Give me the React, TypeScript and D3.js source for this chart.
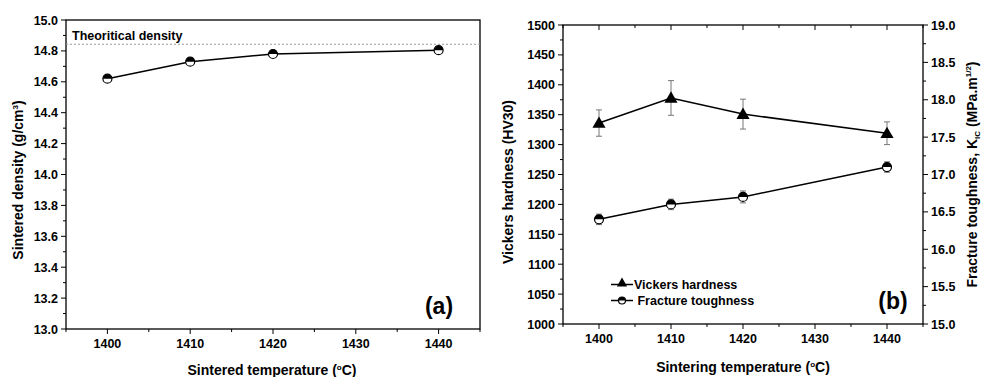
import * as d3 from "d3";
import { useEffect, useRef } from "react";

// panel (a)
const tempsA = [1400, 1410, 1420, 1440];
const density = [14.62, 14.73, 14.78, 14.805];
const theoreticalDensity = 14.843;

// panel (b)
const tempsB = [1400, 1410, 1420, 1440];
const hardness = [1336, 1378, 1351, 1319];
const hardnessErr = [22, 29, 25, 19];
const toughness = [16.4, 16.6, 16.7, 17.1];
const toughnessErr = [0.07, 0.07, 0.08, 0.07];

const xTicks = [1400, 1410, 1420, 1430, 1440];

const FONT = "'Liberation Sans', Arial, sans-serif";

const halfCircle = (g: any, x: number, y: number, r: number) => {
    g.append("circle")
        .attr("cx", x).attr("cy", y).attr("r", r)
        .attr("fill", "#fff").attr("stroke", "#000").attr("stroke-width", 1.2);
    g.append("path")
        .attr("d", `M${x - r},${y} A${r},${r} 0 0 1 ${x + r},${y} Z`)
        .attr("fill", "#000");
};

const App = () => {
    const svgRef = useRef<SVGSVGElement | null>(null);

    useEffect(() => {
        const svg = d3.select(svgRef.current);
        svg.selectAll("*").remove();
        svg.style("font-family", FONT);

        // ---------- panel (a)
        const a = { left: 66, right: 480, top: 20, bottom: 329 };
        const xA = d3.scaleLinear().domain([1395, 1445]).range([a.left, a.right]);
        const yA = d3.scaleLinear().domain([13, 15]).range([a.bottom, a.top]);
        const ga = svg.append("g");

        // frame
        ga.append("rect")
            .attr("x", a.left).attr("y", a.top)
            .attr("width", a.right - a.left).attr("height", a.bottom - a.top)
            .attr("fill", "none").attr("stroke", "#000").attr("stroke-width", 1.3);

        // y ticks
        d3.range(13, 15.001, 0.1).forEach((v, i) => {
            const major = i % 2 === 0;
            ga.append("line")
                .attr("x1", a.left).attr("x2", a.left - (major ? 5 : 3))
                .attr("y1", yA(v)).attr("y2", yA(v))
                .attr("stroke", "#000").attr("stroke-width", 1);
            if (major) {
                ga.append("text")
                    .attr("x", a.left - 8).attr("y", yA(v) + 4.5)
                    .attr("text-anchor", "end")
                    .attr("font-size", 12.5).attr("font-weight", "bold")
                    .text(v.toFixed(1));
            }
        });
        // x ticks
        d3.range(1395, 1445.001, 5).forEach((v) => {
            const major = v % 10 === 0;
            ga.append("line")
                .attr("x1", xA(v)).attr("x2", xA(v))
                .attr("y1", a.bottom).attr("y2", a.bottom + (major ? 5 : 3))
                .attr("stroke", "#000").attr("stroke-width", 1);
        });
        xTicks.forEach((v) => {
            ga.append("text")
                .attr("x", xA(v)).attr("y", a.bottom + 19)
                .attr("text-anchor", "middle")
                .attr("font-size", 12.5).attr("font-weight", "bold")
                .text(v);
        });

        // theoretical density
        ga.append("line")
            .attr("x1", a.left).attr("x2", a.right)
            .attr("y1", yA(theoreticalDensity)).attr("y2", yA(theoreticalDensity))
            .attr("stroke", "#999").attr("stroke-dasharray", "2,2").attr("stroke-width", 1);
        ga.append("text")
            .attr("x", 72).attr("y", 40)
            .attr("font-size", 12.5).attr("font-weight", "bold")
            .text("Theoritical density");

        const lineA = d3.line<number>()
            .x((_, i) => xA(tempsA[i]))
            .y((d) => yA(d));
        ga.append("path")
            .attr("d", lineA(density))
            .attr("fill", "none").attr("stroke", "#000").attr("stroke-width", 1.5);
        density.forEach((d, i) => halfCircle(ga, xA(tempsA[i]), yA(d), 4.5));

        ga.append("text")
            .attr("x", 439).attr("y", 314)
            .attr("text-anchor", "middle")
            .attr("font-size", 23).attr("font-weight", "bold")
            .text("(a)");

        // axis titles
        const tA = ga.append("text")
            .attr("x", 272).attr("y", 375)
            .attr("text-anchor", "middle")
            .attr("font-size", 14).attr("font-weight", "bold");
        tA.append("tspan").text("Sintered temperature (");
        tA.append("tspan").attr("dy", -5).attr("font-size", 8).text("o");
        tA.append("tspan").attr("dy", 5).text("C)");

        const yTA = ga.append("text")
            .attr("transform", `translate(23,180) rotate(-90)`)
            .attr("text-anchor", "middle")
            .attr("font-size", 14).attr("font-weight", "bold");
        yTA.append("tspan").text("Sintered density (g/cm");
        yTA.append("tspan").attr("dy", -5).attr("font-size", 8).text("3");
        yTA.append("tspan").attr("dy", 5).text(")");

        // ---------- panel (b)
        const b = { left: 563, right: 923, top: 25, bottom: 324 };
        const xB = d3.scaleLinear().domain([1395, 1445]).range([b.left, b.right]);
        const yB = d3.scaleLinear().domain([1000, 1500]).range([b.bottom, b.top]);
        const yR = d3.scaleLinear().domain([15, 19]).range([b.bottom, b.top]);
        const gb = svg.append("g");

        gb.append("rect")
            .attr("x", b.left).attr("y", b.top)
            .attr("width", b.right - b.left).attr("height", b.bottom - b.top)
            .attr("fill", "none").attr("stroke", "#000").attr("stroke-width", 1.3);

        // left ticks
        d3.range(1000, 1500.001, 25).forEach((v) => {
            const major = v % 50 === 0;
            gb.append("line")
                .attr("x1", b.left).attr("x2", b.left - (major ? 5 : 3))
                .attr("y1", yB(v)).attr("y2", yB(v))
                .attr("stroke", "#000").attr("stroke-width", 1);
            if (major) {
                gb.append("text")
                    .attr("x", b.left - 8).attr("y", yB(v) + 4.5)
                    .attr("text-anchor", "end")
                    .attr("font-size", 12.5).attr("font-weight", "bold")
                    .text(v);
            }
        });
        // right ticks
        d3.range(15, 19.001, 0.25).forEach((v, i) => {
            const major = i % 2 === 0;
            gb.append("line")
                .attr("x1", b.right).attr("x2", b.right + (major ? 5 : 3))
                .attr("y1", yR(v)).attr("y2", yR(v))
                .attr("stroke", "#000").attr("stroke-width", 1);
            if (major) {
                gb.append("text")
                    .attr("x", b.right + 8).attr("y", yR(v) + 4.5)
                    .attr("text-anchor", "start")
                    .attr("font-size", 12.5).attr("font-weight", "bold")
                    .text(v.toFixed(1));
            }
        });
        // bottom + top ticks
        d3.range(1395, 1445.001, 5).forEach((v) => {
            const major = v % 10 === 0;
            gb.append("line")
                .attr("x1", xB(v)).attr("x2", xB(v))
                .attr("y1", b.bottom).attr("y2", b.bottom + (major ? 5 : 3))
                .attr("stroke", "#000").attr("stroke-width", 1);
            gb.append("line")
                .attr("x1", xB(v)).attr("x2", xB(v))
                .attr("y1", b.top).attr("y2", b.top + (major ? 5 : 3))
                .attr("stroke", "#000").attr("stroke-width", 1);
        });
        xTicks.forEach((v) => {
            gb.append("text")
                .attr("x", xB(v)).attr("y", b.bottom + 19)
                .attr("text-anchor", "middle")
                .attr("font-size", 12.5).attr("font-weight", "bold")
                .text(v);
        });

        // error bars
        const errBar = (x: number, y1: number, y2: number) => {
            gb.append("line").attr("x1", x).attr("x2", x).attr("y1", y1).attr("y2", y2)
                .attr("stroke", "#777").attr("stroke-width", 1);
            [y1, y2].forEach((y) =>
                gb.append("line").attr("x1", x - 3).attr("x2", x + 3).attr("y1", y).attr("y2", y)
                    .attr("stroke", "#777").attr("stroke-width", 1));
        };
        hardness.forEach((d, i) =>
            errBar(xB(tempsB[i]), yB(d - hardnessErr[i]), yB(d + hardnessErr[i])));
        toughness.forEach((d, i) =>
            errBar(xB(tempsB[i]), yR(d - toughnessErr[i]), yR(d + toughnessErr[i])));

        const lineH = d3.line<number>().x((_, i) => xB(tempsB[i])).y((d) => yB(d));
        const lineT = d3.line<number>().x((_, i) => xB(tempsB[i])).y((d) => yR(d));
        gb.append("path").attr("d", lineH(hardness))
            .attr("fill", "none").attr("stroke", "#000").attr("stroke-width", 1.5);
        gb.append("path").attr("d", lineT(toughness))
            .attr("fill", "none").attr("stroke", "#000").attr("stroke-width", 1.5);

        const tri = d3.symbol().type(d3.symbolTriangle).size(75);
        hardness.forEach((d, i) => {
            gb.append("path").attr("d", tri())
                .attr("transform", `translate(${xB(tempsB[i])},${yB(d) + 1})`)
                .attr("fill", "#000");
        });
        toughness.forEach((d, i) => halfCircle(gb, xB(tempsB[i]), yR(d), 4.5));

        // legend
        const lg = [
            { label: "Vickers hardness", y: 284.5, kind: "tri" },
            { label: " Fracture toughness", y: 300.5, kind: "circ" },
        ];
        lg.forEach((l) => {
            gb.append("line").attr("x1", 611).attr("x2", 633).attr("y1", l.y).attr("y2", l.y)
                .attr("stroke", "#000").attr("stroke-width", 1.5);
            if (l.kind === "tri") {
                gb.append("path").attr("d", d3.symbol().type(d3.symbolTriangle).size(45)())
                    .attr("transform", `translate(622,${l.y - 1})`).attr("fill", "#000");
            } else {
                halfCircle(gb, 622, l.y, 3.5);
            }
            gb.append("text")
                .attr("x", 634).attr("y", l.y + 4.5)
                .attr("font-size", 12.5).attr("font-weight", "bold")
                .attr("xml:space", "preserve")
                .style("white-space", "pre")
                .text(l.label);
        });

        gb.append("text")
            .attr("x", 893).attr("y", 309)
            .attr("text-anchor", "middle")
            .attr("font-size", 23).attr("font-weight", "bold")
            .text("(b)");

        const tB = gb.append("text")
            .attr("x", (b.left + b.right) / 2).attr("y", 372)
            .attr("text-anchor", "middle")
            .attr("font-size", 14).attr("font-weight", "bold");
        tB.append("tspan").text("Sintering temperature (");
        tB.append("tspan").attr("dy", -5).attr("font-size", 8).text("o");
        tB.append("tspan").attr("dy", 5).text("C)");

        gb.append("text")
            .attr("transform", `translate(513,182) rotate(-90)`)
            .attr("text-anchor", "middle")
            .attr("font-size", 14).attr("font-weight", "bold")
            .text("Vickers hardness (HV30)");

        const yTR = gb.append("text")
            .attr("transform", `translate(977,${(b.top + b.bottom) / 2}) rotate(-90)`)
            .attr("text-anchor", "middle")
            .attr("font-size", 14).attr("font-weight", "bold");
        yTR.append("tspan").text("Fracture toughness, K");
        yTR.append("tspan").attr("dy", 3).attr("font-size", 8).text("IC");
        yTR.append("tspan").attr("dy", -3).text(" (MPa.m");
        yTR.append("tspan").attr("dy", -6).attr("font-size", 8).text("1/2");
        yTR.append("tspan").attr("dy", 6).text(")");
    }, []);

    return (
        <svg
            ref={svgRef}
            width={981}
            height={377}
            style={{ position: "absolute", left: 0, top: 0, background: "#fff" }}
        ></svg>
    );
};

export default App;
